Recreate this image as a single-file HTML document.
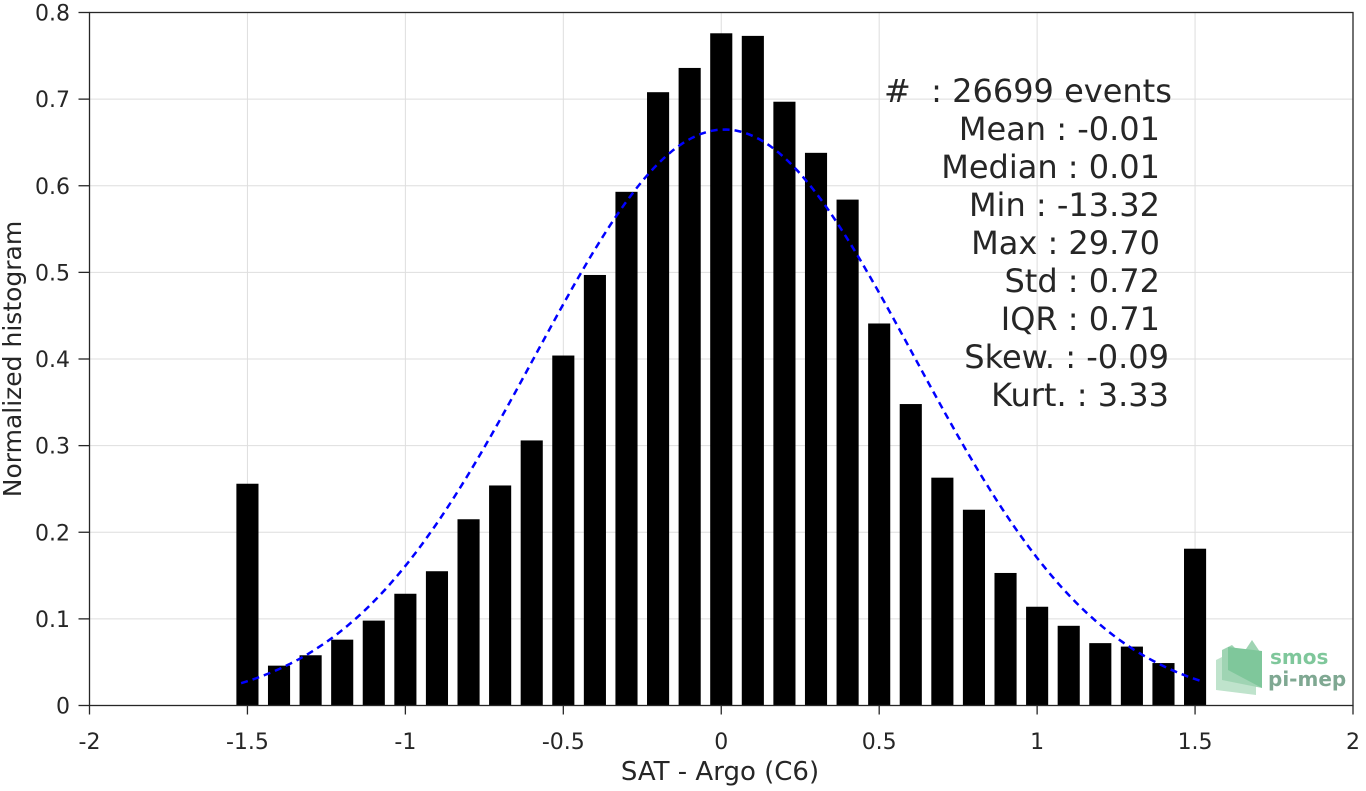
<!DOCTYPE html>
<html><head><meta charset="utf-8"><style>
body{margin:0;background:#fff}
svg text{font-family:"DejaVu Sans","Liberation Sans",sans-serif;fill:#262626}
</style></head><body>
<svg id="chart" width="1366" height="786" xmlns="http://www.w3.org/2000/svg">
<g id="grid"></g><g id="bars"></g><g id="curve"></g><g id="axes"></g>
<g id="stats" font-size="32" style="fill:#000">
<text x="884" y="102" xml:space="preserve">#  : 26699 events</text>
<text x="1160" y="140" text-anchor="end">Mean : -0.01</text>
<text x="1160" y="178" text-anchor="end">Median : 0.01</text>
<text x="1160" y="216" text-anchor="end">Min : -13.32</text>
<text x="1160" y="254" text-anchor="end">Max : 29.70</text>
<text x="1160" y="292" text-anchor="end">Std : 0.72</text>
<text x="1160" y="330" text-anchor="end">IQR : 0.71</text>
<text x="1169" y="368" text-anchor="end">Skew. : -0.09</text>
<text x="1169" y="406" text-anchor="end">Kurt. : 3.33</text>
</g>
<g>
<polygon points="1216,690 1216,660 1226,655 1236,664 1246,650 1256,665 1256,695" fill="#bfe3cc"/>
<polygon points="1222,680 1222,650 1232,645 1242,655 1252,640 1262,655 1262,688" fill="#9fd4b3"/>
<polygon points="1228,670 1228,647 1262,651 1262,688" fill="#7fc79b"/>
<text x="1270" y="664" font-size="20" font-weight="bold" style="fill:#7fc79b">smos</text>
<text x="1268" y="686" font-size="20" font-weight="bold" style="fill:#7fa892">pi-mep</text>
</g>
<text x="720" y="780" text-anchor="middle" font-size="26">SAT - Argo (C6)</text>
<text transform="translate(21,359) rotate(-90)" text-anchor="middle" font-size="25">Normalized histogram</text>
</svg>
<script>
const binCenters=[-1.5,-1.4,-1.3,-1.2,-1.1,-1.0,-0.9,-0.8,-0.7,-0.6,-0.5,-0.4,-0.3,-0.2,-0.1,0,0.1,0.2,0.3,0.4,0.5,0.6,0.7,0.8,0.9,1.0,1.1,1.2,1.3,1.4,1.5];
const binValues=[0.256,0.046,0.058,0.076,0.098,0.129,0.155,0.215,0.254,0.306,0.404,0.497,0.593,0.708,0.736,0.776,0.773,0.697,0.638,0.584,0.441,0.348,0.263,0.226,0.153,0.114,0.092,0.072,0.068,0.049,0.181];
const fitMean=[0.01];
const fitStd=[0.6];
const fitRange=[-1.52,1.52];
const xTicks=[-2,-1.5,-1,-0.5,0,0.5,1,1.5,2];
const xTickLabels=["-2","-1.5","-1","-0.5","0","0.5","1","1.5","2"];
const yTicks=[0,0.1,0.2,0.3,0.4,0.5,0.6,0.7,0.8];
const yTickLabels=["0","0.1","0.2","0.3","0.4","0.5","0.6","0.7","0.8"];
const NS="http://www.w3.org/2000/svg";
const L=89.5,R=1353,T=12.5,B=705.5;
const xs=v=>L+(v+2)/4*(R-L);
const ys=v=>B-v/0.8*(B-T);
function mk(tag,attrs,parent){const e=document.createElementNS(NS,tag);for(const k in attrs)e.setAttribute(k,attrs[k]);document.getElementById(parent).appendChild(e);return e;}
xTicks.forEach((t,i)=>{
 const g=mk('line',{x1:xs(t),x2:xs(t),y1:T,y2:B,stroke:'#dedede','stroke-width':1},'grid');
 
 
 const tk=mk('line',{x1:xs(t),x2:xs(t),y1:B,y2:B+9,stroke:'#262626','stroke-width':1.3},'axes');
 
 
 const tx=mk('text',{x:xs(t),y:749,'text-anchor':'middle','font-size':22},'axes');
 tx.textContent=xTickLabels[i];
 
 
});
yTicks.forEach((t,i)=>{
 const g=mk('line',{x1:L,x2:R,y1:ys(t),y2:ys(t),stroke:'#dedede','stroke-width':1},'grid');
 
 
 const tk=mk('line',{x1:L-11,x2:L,y1:ys(t),y2:ys(t),stroke:'#262626','stroke-width':1.3},'axes');
 
 
 const tx=mk('text',{x:70,y:ys(t)+8,'text-anchor':'end','font-size':22},'axes');
 tx.textContent=yTickLabels[i];
 
 
});
const bw=0.07*(R-L)/4;
binCenters.forEach((c,i)=>{
 const r=mk('rect',{x:xs(c)-bw/2,y:ys(binValues[i]),width:bw,height:ys(0)-ys(binValues[i]),fill:'#000'},'bars');
 
 
});
let pts=[];
for(let k=0;k<=200;k++){const x=fitRange[0]+(fitRange[1]-fitRange[0])*k/200;const s=fitStd[0];
 const y=Math.exp(-Math.pow(x-fitMean[0],2)/(2*s*s))/(s*Math.sqrt(2*Math.PI));pts.push(xs(x).toFixed(1)+','+ys(y).toFixed(1));}
const p=mk('polyline',{points:pts.join(' '),fill:'none',stroke:'#0000ff','stroke-width':2.5,'stroke-dasharray':'7,5'},'curve');


const box=mk('rect',{x:L,y:T,width:R-L,height:B-T,fill:'none',stroke:'#262626','stroke-width':1.3},'axes');


</script>
</body></html>
